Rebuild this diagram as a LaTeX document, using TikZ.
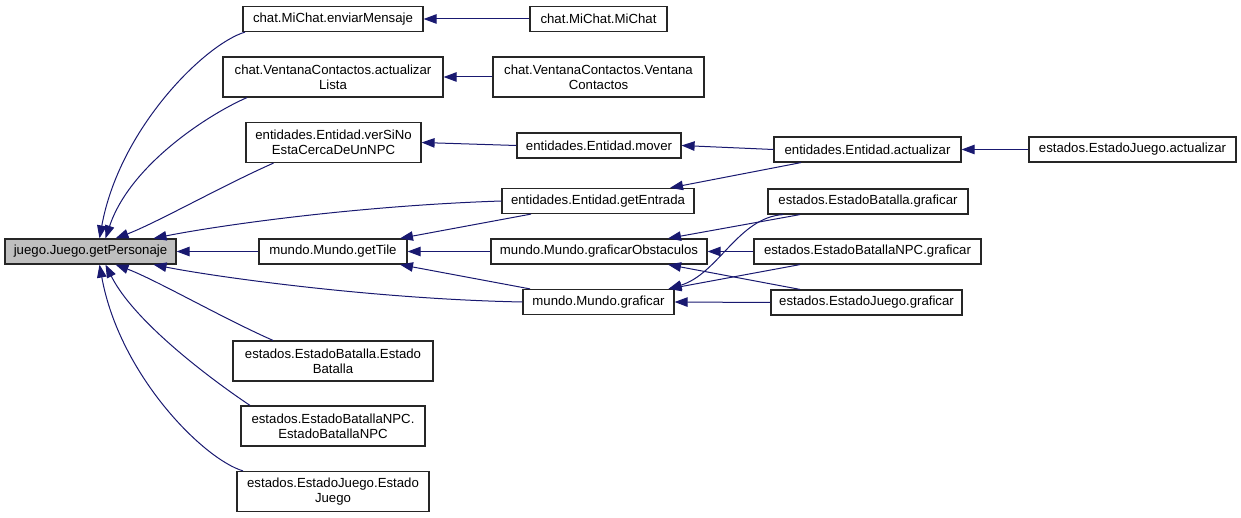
\documentclass[tikz,border=0pt]{standalone}
\usepackage{fontspec}
\setmainfont{Liberation Sans}
\usetikzlibrary{arrows.meta}
\definecolor{edgeblue}{RGB}{25,25,112}
\definecolor{focusgray}{RGB}{191,191,191}
\begin{document}
\begin{tikzpicture}[x=1pt, y=-1pt,
  fn/.style={rectangle, draw=black!85, line width=1.2pt, fill=white, minimum height=25pt, inner xsep=4pt, inner ysep=2pt, align=center, font=\fontsize{13.2}{15}\selectfont},
  fntwo/.style={fn, minimum height=40pt},
  focus/.style={fn, fill=focusgray},
  arr/.style={-{Triangle[length=13pt,width=9.5pt]}, draw=edgeblue, line width=1pt}
]
\useasboundingbox (0,0) rectangle (1241,518);
\node[focus, minimum width=171pt] (personaje) at (90.5,251.5) {juego.Juego.getPersonaje};
\node[fn, minimum width=180pt] (enviar) at (333,19) {chat.MiChat.enviarMensaje};
\node[fntwo, minimum width=220pt] (actlista) at (333,77) {chat.VentanaContactos.actualizar\\Lista};
\node[fntwo, minimum width=175pt] (cerca) at (333.5,142.5) {entidades.Entidad.verSiNo\\EstaCercaDeUnNPC};
\node[fn, minimum width=148pt] (tile) at (333,251.5) {mundo.Mundo.getTile};
\node[fntwo, minimum width=200pt] (ctorbat) at (333,361) {estados.EstadoBatalla.Estado\\Batalla};
\node[fntwo, minimum width=184pt] (ctorbatnpc) at (333,426) {estados.EstadoBatallaNPC.\\EstadoBatallaNPC};
\node[fntwo, minimum width=192pt] (ctorjuego) at (333,491.5) {estados.EstadoJuego.Estado\\Juego};
\node[fn, minimum width=137pt] (michat) at (598.5,19) {chat.MiChat.MiChat};
\node[fntwo, minimum width=211pt] (ctorvent) at (598.5,77) {chat.VentanaContactos.Ventana\\Contactos};
\node[fn, minimum width=164pt] (mover) at (599,145.5) {entidades.Entidad.mover};
\node[fn, minimum width=192pt] (entrada) at (598,201) {entidades.Entidad.getEntrada};
\node[fn, minimum width=216pt] (obstaculos) at (599,251.5) {mundo.Mundo.graficarObstaculos};
\node[fn, minimum width=151pt] (graficar) at (598.5,302) {mundo.Mundo.graficar};
\node[fn, minimum width=187pt] (actent) at (867.5,149.5) {entidades.Entidad.actualizar};
\node[fn, minimum width=200pt] (grafbat) at (868,201.5) {estados.EstadoBatalla.graficar};
\node[fn, minimum width=227pt] (grafbatnpc) at (867.5,251.5) {estados.EstadoBatallaNPC.graficar};
\node[fn, minimum width=191pt] (grafjuego) at (866.5,302.5) {estados.EstadoJuego.graficar};
\node[fn, minimum width=207pt] (actjuego) at (1132.5,149.5) {estados.EstadoJuego.actualizar};
\draw[arr] ([xshift=-88pt]enviar.south) .. controls +(-40,12) and +(20,-110) .. ([xshift=9pt]personaje.north);
\draw[arr] ([xshift=-86pt]actlista.south) .. controls +(-35,15) and +(25,-75) .. ([xshift=15pt]personaje.north);
\draw[arr] ([xshift=-60pt]cerca.south) .. controls +(-50,22) and +(40,-15) .. ([xshift=25pt]personaje.north);
\draw[arr] (entrada.west) .. controls +(-150,5) and +(60,-12) .. ([xshift=63pt]personaje.north);
\draw[arr] (tile.west) -- (personaje.east);
\draw[arr] (graficar.west) .. controls +(-150,-3) and +(60,12) .. ([xshift=63pt]personaje.south);
\draw[arr] ([xshift=-60pt]ctorbat.north) .. controls +(-50,-22) and +(40,15) .. ([xshift=25pt]personaje.south);
\draw[arr] ([xshift=-83pt]ctorbatnpc.north) .. controls +(-30,-20) and +(30,60) .. ([xshift=15pt]personaje.south);
\draw[arr] ([xshift=-90pt]ctorjuego.north) .. controls +(-40,-12) and +(20,110) .. ([xshift=9pt]personaje.south);
\draw[arr] (michat.west) -- (enviar.east);
\draw[arr] (ctorvent.west) -- (actlista.east);
\draw[arr] (mover.west) -- (cerca.east);
\draw[arr] (actent.west) -- (mover.east);
\draw[arr] (actjuego.west) -- (actent.east);
\draw[arr] ([xshift=-66.5pt]actent.south) -- ([xshift=72pt]entrada.north);
\draw[arr] ([xshift=-67pt]entrada.south) -- ([xshift=67pt]tile.north);
\draw[arr] (obstaculos.west) -- (tile.east);
\draw[arr] ([xshift=-68.5pt]graficar.north) -- ([xshift=67pt]tile.south);
\draw[arr] ([xshift=-68pt]grafbat.south) -- ([xshift=69pt]obstaculos.north);
\draw[arr] (grafbatnpc.west) -- (obstaculos.east);
\draw[arr] ([xshift=-66.5pt]grafjuego.north) -- ([xshift=69pt]obstaculos.south);
\draw[arr] ([xshift=-85pt]grafbat.south) .. controls +(-45,3) and +(50,-15) .. ([xshift=70pt]graficar.north);
\draw[arr] ([xshift=-67.5pt]grafbatnpc.south) -- ([xshift=70pt]graficar.north);
\draw[arr] (grafjuego.west) -- (graficar.east);
\end{tikzpicture}
\end{document}
